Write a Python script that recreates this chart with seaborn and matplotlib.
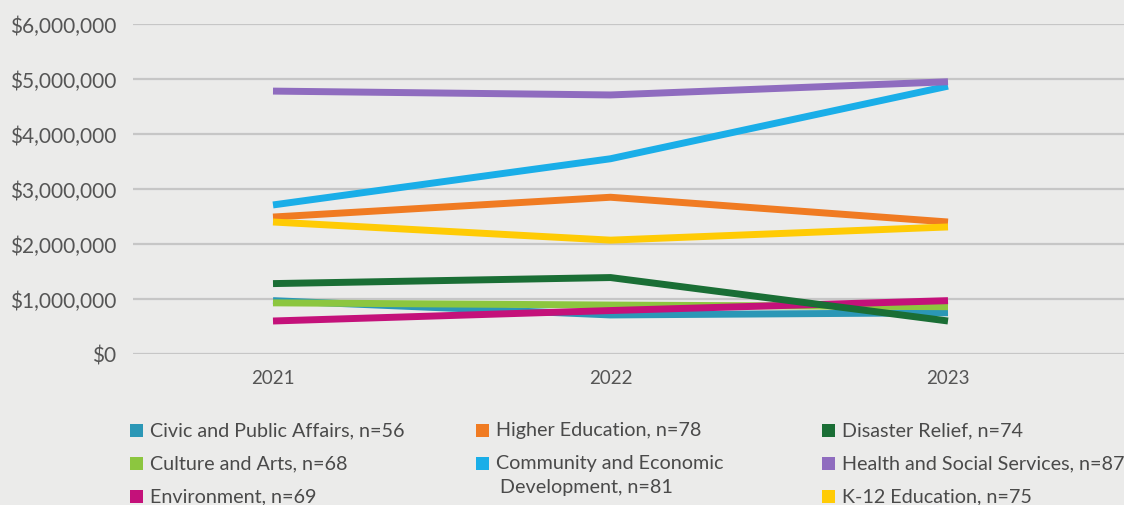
import matplotlib
matplotlib.use("Agg")
import matplotlib.pyplot as plt
from matplotlib.patches import Rectangle
from matplotlib.ticker import FuncFormatter
import seaborn as sns
import pandas as pd

# Giving totals by focus area, 2021-2023
years = [2021, 2022, 2023]

civic = [970000, 710000, 750000]
culture = [930000, 890000, 860000]
environment = [600000, 790000, 970000]
higher_ed = [2490000, 2850000, 2400000]
community = [2710000, 3550000, 4870000]
disaster = [1280000, 1390000, 600000]
health = [4780000, 4710000, 4950000]
k12 = [2400000, 2070000, 2310000]

labels = [
    "Civic and Public Affairs, n=56",
    "Culture and Arts, n=68",
    "Environment, n=69",
    "Higher Education, n=78",
    "Community and Economic\nDevelopment, n=81",
    "Disaster Relief, n=74",
    "Health and Social Services, n=87",
    "K-12 Education, n=75",
]
series = [civic, culture, environment, higher_ed, community, disaster, health, k12]
colors = ["#2b97b6", "#8cc63f", "#c4117a", "#f07b22",
          "#1aaee8", "#1a6e35", "#8f6cbf", "#ffcb05"]

y_ticks = [0, 1000000, 2000000, 3000000, 4000000, 5000000, 6000000]

rows = []
for lab, vals in zip(labels, series):
    for yr, v in zip(years, vals):
        rows.append({"year": yr, "amount": v, "area": lab})
df = pd.DataFrame(rows)

sns.set_theme(style="white")
plt.rcParams["font.family"] = ["Lato", "DejaVu Sans"]

bg = "#ebebea"
W, H = 1124, 506
fig = plt.figure(figsize=(W / 100, H / 100), dpi=100, facecolor=bg)
ax = fig.add_axes([133 / W, 1 - 355 / H, 991 / W, 330 / H])
ax.set_facecolor(bg)

sns.lineplot(data=df, x="year", y="amount", hue="area", hue_order=labels,
             palette=dict(zip(labels, colors)), linewidth=5,
             legend=False, ax=ax, solid_capstyle="butt", solid_joinstyle="round")

ax.set_xlim(2021 - 140 / 337.5, 2023 + 176 / 337.5)
ax.set_ylim(0, 6000000)
ax.set_yticks(y_ticks)
ax.yaxis.set_major_formatter(FuncFormatter(lambda v, p: f"${v:,.0f}"))
ax.set_xticks(years)
ax.set_xticklabels([str(y) for y in years])
ax.grid(axis="y", color="#c6c6c6", linewidth=1.6)
ax.set_axisbelow(True)
for s in ax.spines.values():
    s.set_visible(False)
ax.tick_params(axis="y", length=0, pad=12, labelsize=15, labelcolor="#555555")
ax.tick_params(axis="x", length=0, pad=11, labelsize=13.5, labelcolor="#555555")
ax.set_xlabel("")
ax.set_ylabel("")

# Legend laid out in three columns beneath the plot
col_x = [130, 476, 822]
row_y = [431, 464, 497]
slots = [(0, 0), (0, 1), (0, 2), (1, 0), (1, 1), (2, 0), (2, 1), (2, 2)]
sq = 13
txt = dict(ha="left", va="center", fontsize=14.2, color="#4a4a4a")
for lab, col, (c, r) in zip(labels, colors, slots):
    x0 = col_x[c]
    yc = row_y[r]
    fig.patches.append(Rectangle((x0 / W, 1 - (yc + sq / 2) / H), sq / W, sq / H,
                                 transform=fig.transFigure, facecolor=col,
                                 edgecolor="none"))
    lines = lab.split("\n")
    fig.text((x0 + 20) / W, 1 - yc / H, lines[0], **txt)
    if len(lines) > 1:
        fig.text((x0 + 24) / W, 1 - (yc + 24) / H, lines[1], **txt)

fig.savefig("out.png", dpi=100, facecolor=bg)
